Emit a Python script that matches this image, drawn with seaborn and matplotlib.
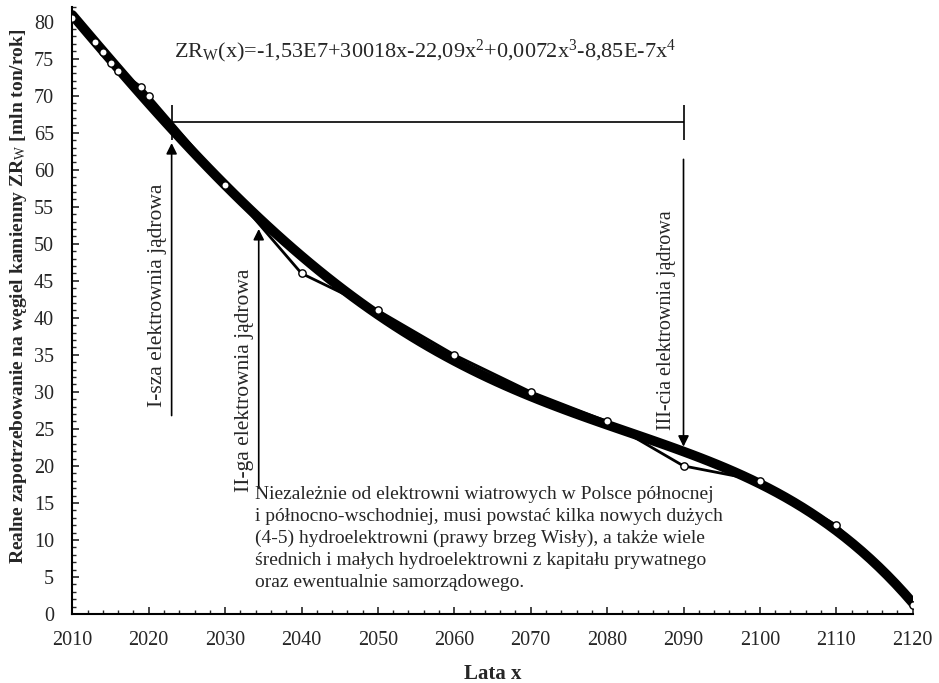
import matplotlib
matplotlib.use("Agg")
import matplotlib.pyplot as plt
from matplotlib.ticker import MultipleLocator
import seaborn as sns
import pandas as pd

# ---- data ----
years = [2010, 2013, 2014, 2015, 2016, 2019, 2020, 2030, 2040, 2050,
         2060, 2070, 2080, 2090, 2100, 2110, 2120]
demand = [80.5, 77.3, 75.9, 74.4, 73.4, 71.2, 70.0, 58.0, 46.0, 41.0,
          35.0, 30.0, 26.0, 20.0, 18.0, 12.0, 1.2]

x_ticks = [2010, 2020, 2030, 2040, 2050, 2060, 2070, 2080, 2090, 2100, 2110, 2120]
y_ticks = [0, 5, 10, 15, 20, 25, 30, 35, 40, 45, 50, 55, 60, 65, 70, 75, 80]

equation = ("ZR$_\\mathrm{W}$(x)=-1,53E7+30018x-22,09x$^\\mathrm{2}$"
            "+0,0072x$^\\mathrm{3}$-8,85E-7x$^\\mathrm{4}$")
label_1 = "I-sza elektrownia jądrowa"
label_2 = "II-ga elektrownia jądrowa"
label_3 = "III-cia elektrownia jądrowa"
note = ("Niezależnie od elektrowni wiatrowych w Polsce północnej\n"
        "i północno-wschodniej, musi powstać kilka nowych dużych\n"
        "(4-5) hydroelektrowni (prawy brzeg Wisły), a także wiele\n"
        "średnich i małych hydroelektrowni z kapitału prywatnego\n"
        "oraz ewentualnie samorządowego.")
x_label = "Lata x"
y_label = "Realne zapotrzebowanie na węgiel kamienny ZR$_\\mathrm{W}$ [mln ton/rok]"

df = pd.DataFrame({"year": years, "demand": demand})

sns.set_style("ticks")
plt.rcParams["font.family"] = ["Liberation Serif", "DejaVu Serif"]
plt.rcParams["mathtext.fontset"] = "custom"
plt.rcParams["mathtext.rm"] = "Liberation Serif"
plt.rcParams["mathtext.it"] = "Liberation Serif:italic"
plt.rcParams["mathtext.bf"] = "Liberation Serif:bold"

fig = plt.figure(figsize=(9.39, 6.83), dpi=100)
ax = fig.add_axes([0.077, 0.101, 0.895, 0.889])

# polynomial trend (4th order) computed by seaborn
sns.regplot(data=df, x="year", y="demand", order=4, ci=None, scatter=False,
            ax=ax, line_kws=dict(color="black", lw=7, zorder=2))
# raw data, thin line + open circles
sns.lineplot(data=df, x="year", y="demand", ax=ax, color="black", lw=2.0,
             zorder=3)
sns.scatterplot(data=df, x="year", y="demand", ax=ax, marker="o", s=28,
                facecolor="white", edgecolor="black", linewidth=1.0, zorder=4)

ax.set_xlim(2010, 2120)
ax.set_ylim(0, 82)
ax.set_xticks(x_ticks)
ax.set_yticks(y_ticks)
ax.xaxis.set_minor_locator(MultipleLocator(2))
ax.yaxis.set_minor_locator(MultipleLocator(1))
ax.tick_params(which="major", direction="in", length=5, width=1.2,
               labelsize=14.5)
ax.tick_params(axis="x", which="major", pad=12)
ax.tick_params(axis="y", which="major", pad=13)
ax.tick_params(which="minor", direction="in", length=3, width=1.0)
for s in ("top", "right"):
    ax.spines[s].set_visible(False)
for s in ("left", "bottom"):
    ax.spines[s].set_linewidth(1.5)
    ax.spines[s].set_color("black")

ax.set_xlabel(x_label, fontsize=15, fontweight="bold", labelpad=10)
ax.set_ylabel(y_label, fontsize=14, fontweight="bold")
ax.yaxis.set_label_coords(-0.051, 0.524)

# equation
ax.text(2023.3, 76.0, equation, fontsize=16, va="center", ha="left")

# bracket between first and third plant
ax.hlines(66.4, 2023, 2090, color="black", lw=1.2)
ax.vlines([2023, 2090], 64.0, 68.8, color="black", lw=1.2)

arrow = dict(arrowstyle="-|>", color="black", lw=1.2, mutation_scale=16,
             shrinkA=0, shrinkB=0)
ax.annotate("", xy=(2023, 63.6), xytext=(2023, 26.8), arrowprops=arrow)
ax.annotate("", xy=(2034.4, 52.0), xytext=(2034.4, 17.0), arrowprops=arrow)
ax.annotate("", xy=(2090, 22.6), xytext=(2090, 61.4), arrowprops=arrow)

ax.text(2021.2, 43.0, label_1, rotation=90, fontsize=15.5,
        ha="center", va="center")
ax.text(2032.6, 31.6, label_2, rotation=90, fontsize=15.5,
        ha="center", va="center")
ax.text(2087.8, 39.7, label_3, rotation=90, fontsize=14.5,
        ha="center", va="center")

ax.text(2033.9, 17.3, note, fontsize=14, ha="left", va="top",
        linespacing=1.38)

fig.savefig("out.png", dpi=100)
